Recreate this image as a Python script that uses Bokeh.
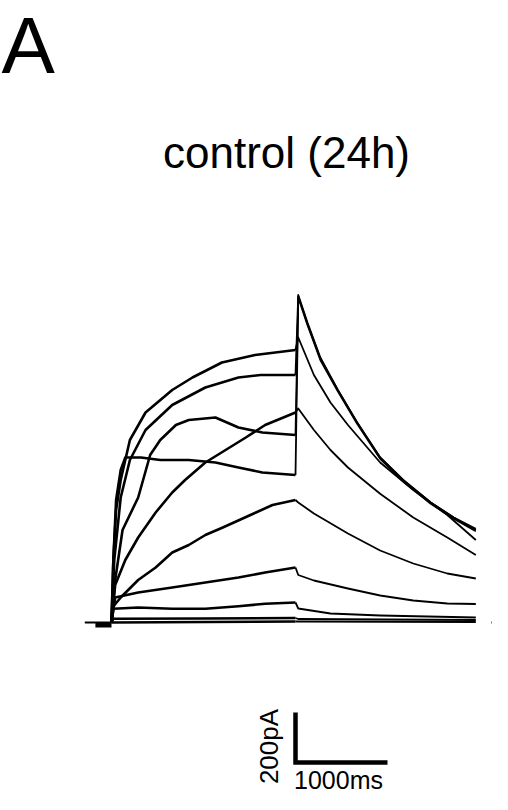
import math
from bokeh.plotting import figure
from bokeh.models import Range1d, Label
from bokeh.embed import file_html
from bokeh.resources import INLINE

# ---------------- data (time in ms, current in pA) ----------------
# step traces (0-2000 ms) followed by their tail currents (2000-3960 ms)
trace1_t = [0, 20, 50, 100, 200, 370, 660, 880, 1200, 1560, 2000,
            2030, 2200, 2380, 2570, 2920, 3280, 3650, 3960]
trace1_i = [0, 250, 450, 570, 730, 840, 930, 980, 1040, 1070, 1090,
            1140, 990, 880, 790, 640, 530, 430, 330]

trace2_t = [0, 30, 100, 200, 370, 660, 1020, 1380, 1620, 2000,
            2030, 2130, 2270, 2460, 2670, 2920, 3170, 3470, 3720, 3960]
trace2_i = [0, 250, 500, 650, 770, 870, 940, 980, 990, 990,
            1310, 1200, 1060, 930, 800, 660, 570, 480, 420, 370]

trace3_t = [0, 40, 120, 290, 420, 530, 700, 840, 1130, 1380, 1640, 2000,
            2030, 2130, 2270, 2460, 2670, 2920, 3170, 3470, 3720, 3960]
trace3_i = [0, 170, 370, 500, 670, 730, 790, 810, 820, 780, 760, 750,
            1300, 1190, 1050, 925, 795, 655, 565, 475, 415, 365]

trace4_t = [0, 20, 50, 100, 150, 320, 530, 840, 1130, 1380, 1640, 2000,
            2030, 2130, 2270, 2460, 2670, 2920, 3170, 3470, 3720, 3960]
trace4_i = [0, 250, 490, 610, 660, 660, 650, 650, 640, 620, 600, 590,
            1305, 1195, 1055, 930, 800, 660, 570, 480, 420, 375]

trace5_t = [0, 40, 150, 290, 480, 660, 800, 1020, 1240, 1460, 1670, 2000,
            2030, 2200, 2380, 2570, 2920, 3280, 3650, 3960]
trace5_i = [0, 150, 250, 340, 440, 520, 570, 640, 690, 740, 790, 840,
            856, 770, 690, 620, 515, 420, 340, 270]

trace6_t = [0, 10, 100, 290, 480, 660, 840, 1020, 1210, 1390, 1570, 1750, 2000,
            2030, 2200, 2570, 2920, 3280, 3650, 3960]
trace6_i = [0, 60, 100, 170, 220, 280, 310, 350, 380, 410, 440, 470, 490,
            480, 436, 356, 288, 236, 196, 176]

trace7_t = [0, 40, 290, 660, 1020, 1380, 1670, 2000,
            2030, 2200, 2570, 2920, 3280, 3650, 3960]
trace7_i = [0, 100, 120, 140, 160, 180, 200, 220,
            190, 168, 136, 108, 88, 76, 74]

trace8_t = [0, 20, 290, 660, 1020, 1380, 1670, 2000,
            2030, 2380, 2920, 3960]
trace8_i = [0, 55, 60, 55, 55, 65, 75, 80,
            56, 36, 28, 20]

trace9_t = [0, 20, 1000, 2000, 2030, 3000, 3960]
trace9_i = [0, 15, 16, 18, 14, 12, 10]

trace10_t = [0, 2000, 2030, 3960]
trace10_i = [0, 4, 4, 2]

traces = [(trace1_t, trace1_i), (trace2_t, trace2_i), (trace3_t, trace3_i),
          (trace4_t, trace4_i), (trace5_t, trace5_i), (trace6_t, trace6_i),
          (trace7_t, trace7_i), (trace8_t, trace8_i), (trace9_t, trace9_i),
          (trace10_t, trace10_i)]
step_end_ms = 2000

# holding current before the step and zero line after
baseline_pre_t = [-290, 0]
baseline_pre_i = [0, 0]
holding_t = [-175, 0]
holding_i = [-10, -10]
zero_post_t = [4130, 4300]
zero_post_i = [0, 0]

# scale bar
scalebar_t0 = 2000
scalebar_i0 = -560
scalebar_ms = 1000
scalebar_pA = 200

panel_letter = "A"
title_text = "control (24h)"
time_label = "1000ms"
current_label = "200pA"

# ---------------- figure ----------------
W, H = 492, 794
px_per_ms = 0.092
px_per_pA = 0.25
x0_px = 111
y0_px = 172

p = figure(width=W, height=H,
           x_range=Range1d(-x0_px / px_per_ms, (W - x0_px) / px_per_ms),
           y_range=Range1d(-y0_px / px_per_pA, (H - y0_px) / px_per_pA),
           toolbar_location=None, output_backend="svg",
           x_axis_location=None, y_axis_location=None, min_border=0)
p.grid.visible = False
p.outline_line_color = None
p.background_fill_color = "white"
p.border_fill_color = "white"

for t, i in traces:
    k = t.index(step_end_ms)
    p.line(t[:k + 1], i[:k + 1], line_color="black", line_width=2.6, line_join="round")
    p.line(t[k:], i[k:], line_color="black", line_width=1.8, line_join="round")

p.line(baseline_pre_t, baseline_pre_i, line_color="black", line_width=2)
p.line(holding_t, holding_i, line_color="black", line_width=5)
p.line(zero_post_t, zero_post_i, line_color="black", line_width=2)

p.line([scalebar_t0, scalebar_t0, scalebar_t0 + scalebar_ms],
       [scalebar_i0 + scalebar_pA, scalebar_i0, scalebar_i0],
       line_color="black", line_width=4.5, line_join="miter", line_cap="butt")

font = "Liberation Sans"


def add_text(txt, x, y, size, align="center", angle=0.0):
    p.add_layout(Label(x=x, y=y, x_units="screen", y_units="screen", text=txt,
                       text_font=font, text_font_size=f"{size}px", text_color="black",
                       text_baseline="middle", text_align=align, angle=angle))


add_text(panel_letter, 1, 749, 80, align="left")
add_text(title_text, 286, 642, 44)
add_text(time_label, 338, 15, 25)
add_text(current_label, 268, 48, 26, angle=math.pi / 2)

open("out.html", "w").write(file_html(p, INLINE))
